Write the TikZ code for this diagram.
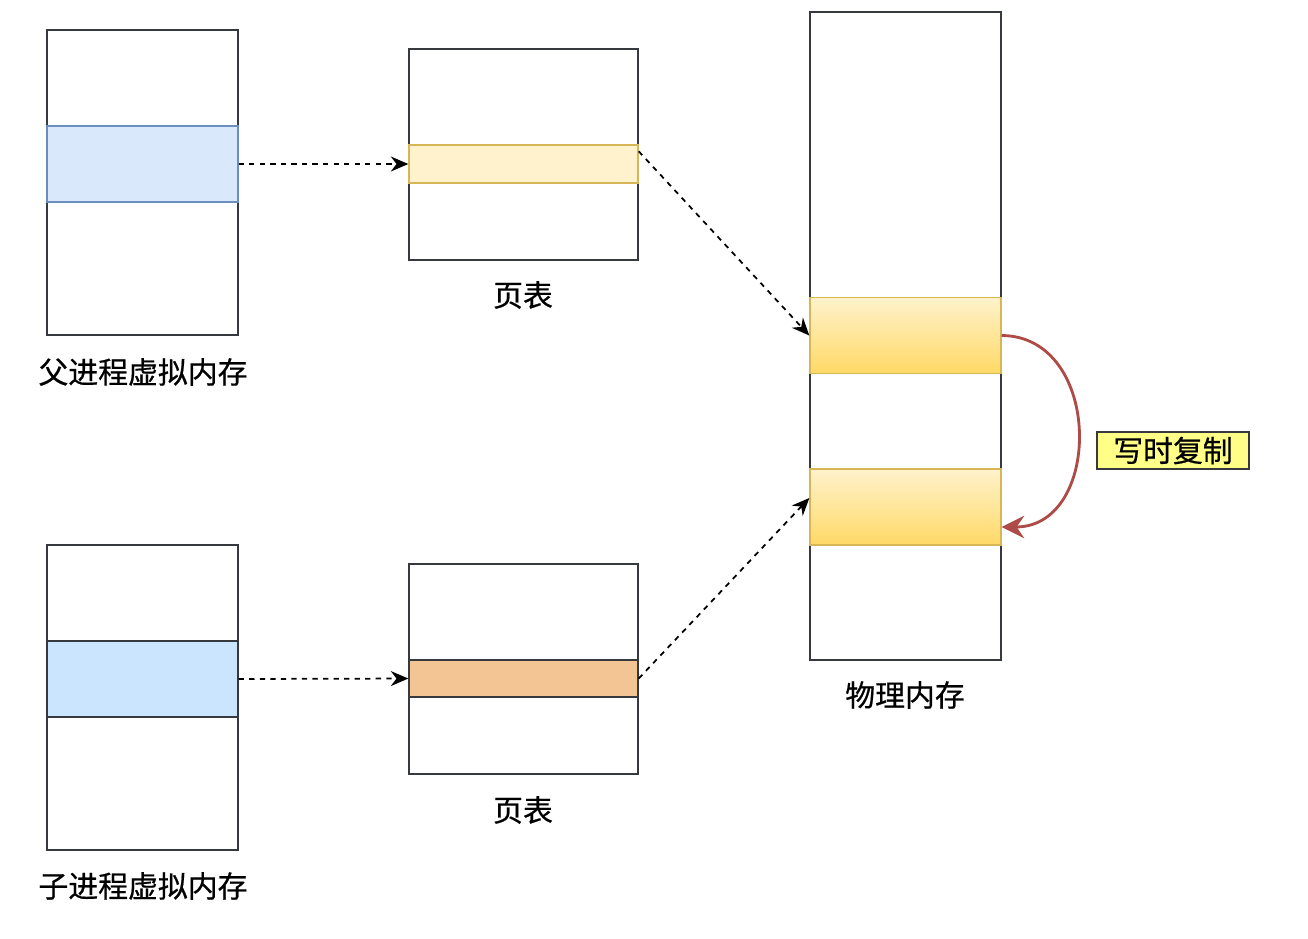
\documentclass[tikz,border=0pt]{standalone}
\usepackage{fontspec}
\usepackage{xcolor}
\newfontfamily\cjk[FakeBold=0.6]{Noto Sans CJK SC}
\usetikzlibrary{arrows.meta}

\definecolor{bandblue}{HTML}{DAE8FC}
\definecolor{bandblueline}{HTML}{6C8EBF}
\definecolor{childblue}{HTML}{CCE5FF}
\definecolor{paleyellow}{HTML}{FFF2CC}
\definecolor{goldyellow}{HTML}{FFD966}
\definecolor{yellowline}{HTML}{D6B656}
\definecolor{orangeband}{HTML}{F3C595}
\definecolor{darkline}{HTML}{36393D}
\definecolor{cowred}{HTML}{AE4B47}
\definecolor{notefill}{HTML}{FFFF88}

\tikzset{
	memcol/.style={draw=darkline, line width=1pt, fill=white, minimum width=3.82cm},
	tablecol/.style={draw=darkline, line width=1pt, fill=white, minimum width=4.58cm, minimum height=4.22cm},
	band/.style={line width=0.8pt, minimum height=1.52cm, inner sep=0pt},
	label/.style={font=\cjk\fontsize{17}{20}\selectfont},
	maparrow/.style={dashed, line width=1pt, -{Stealth[length=3.5mm, width=3mm]}}
}

\begin{document}
\begin{tikzpicture}[x=0.02cm, y=-0.02cm]
	\useasboundingbox (0,0) rectangle (1308,938);

	% Parent process virtual memory
	\node (pvm) at (142.5,182.5) [memcol, minimum height=6.1cm] {};
	\node (pvmband) at (142.5,164) [band, minimum width=3.82cm, draw=bandblueline, fill=bandblue] {};
	\node (pvmlbl) at (143,372) [label] {父进程虚拟内存};

	% Child process virtual memory
	\node (cvm) at (142.5,697.5) [memcol, minimum height=6.1cm] {};
	\node (cvmband) at (142.5,679) [band, minimum width=3.82cm, draw=darkline, fill=childblue] {};
	\node (cvmlbl) at (143,886) [label] {子进程虚拟内存};

	% Page tables
	\node (pt1) at (523.5,154.5) [tablecol] {};
	\node (pt1band) at (523.5,164) [band, minimum width=4.58cm, minimum height=0.76cm, draw=yellowline, fill=paleyellow] {};
	\node (pt1lbl) at (523,295) [label] {页表};

	\node (pt2) at (523.5,669) [tablecol, minimum height=4.2cm] {};
	\node (pt2band) at (523.5,678.5) [band, minimum width=4.58cm, minimum height=0.74cm, draw=darkline, fill=orangeband] {};
	\node (pt2lbl) at (523,810) [label] {页表};

	% Physical memory
	\node (phys) at (905.5,336) [memcol, minimum height=12.96cm] {};
	\node (physband1) at (905.5,335.5) [band, minimum width=3.82cm, draw=yellowline, top color=paleyellow, bottom color=goldyellow] {};
	\node (physband2) at (905.5,507) [band, minimum width=3.82cm, draw=yellowline, top color=paleyellow, bottom color=goldyellow] {};
	\node (physlbl) at (905,695) [label] {物理内存};

	% Copy-on-write note
	\node (cow) at (1173,450.5) [label, draw=darkline, line width=0.8pt, fill=notefill, minimum width=3.04cm, minimum height=0.74cm, inner sep=0pt] {写时复制};

	% Mappings
	\draw[maparrow] (pvmband.east) -- (pt1band.west);
	\draw[maparrow] (cvmband.east) -- (pt2band.west);
	\draw[maparrow] ([yshift=-0.14cm]pt1band.north east) -- (physband1.west);
	\draw[maparrow] (pt2band.east) -- ([yshift=0.18cm]physband2.west);

	% Copy on write
	\draw[cowred, line width=1.6pt, -{Stealth[length=4.5mm, width=4.5mm, inset=1.5mm]}]
	(physband1.east) .. controls (1103,336) and (1103,527) .. ([yshift=-0.4cm]physband2.east);
\end{tikzpicture}
\end{document}
